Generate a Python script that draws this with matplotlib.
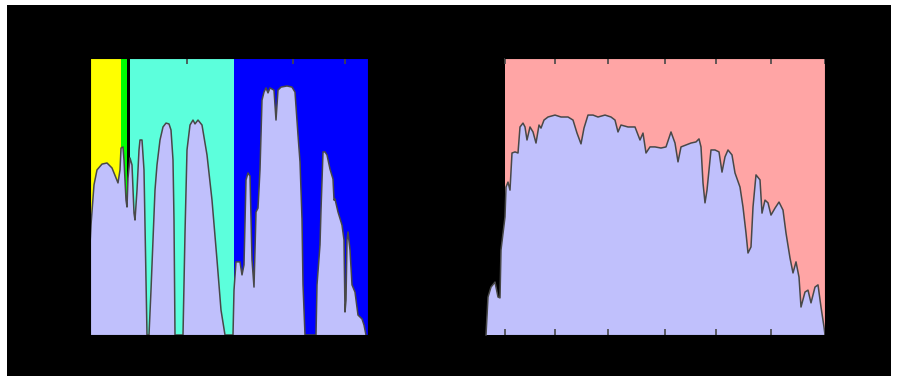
import numpy as np
import matplotlib
matplotlib.use("Agg")
import matplotlib.pyplot as plt
from matplotlib.patches import Rectangle

# left panel: transmission (%) vs position
left_x = [0.0, 0.1, 0.4, 0.7, 1.2, 1.7, 2.2, 2.6, 2.8, 3.0, 3.1, 3.3, 3.4, 3.6, 3.7, 3.8,
          4.0, 4.2, 4.4, 4.5, 4.7, 4.9, 5.0, 5.2, 5.4, 5.6, 5.7,
          5.9, 6.1, 6.3, 6.5, 6.7, 7.0, 7.3, 7.6, 7.9, 8.1, 8.3, 8.4, 8.5,
          9.3, 9.5, 9.7, 10.0, 10.3, 10.5, 10.8, 11.2, 11.7, 12.2, 12.7, 13.1, 13.5,
          14.3, 14.4, 14.6, 15.0, 15.2, 15.4, 15.6, 15.8, 16.0, 16.2, 16.4, 16.5, 16.6, 16.8,
          17.0, 17.2, 17.4, 17.6, 17.8, 18.0, 18.4, 18.6, 18.8, 19.1, 19.7, 20.2, 20.5, 20.8,
          21.0, 21.2, 21.3, 21.5,
          22.6, 22.7, 23.0, 23.1, 23.3, 23.5, 23.7, 24.0, 24.3, 24.4, 24.5, 24.8, 25.2, 25.4,
          25.5, 25.6, 25.7, 25.8, 26.0, 26.2, 26.5, 26.8, 27.2, 27.4, 27.6]
left_y = [32.5, 39.7, 54.2, 59.6, 61.7, 62.1, 60.3, 56.7, 54.9, 59.6, 67.5, 67.9, 63.2, 48.7, 46.2, 56.7,
          63.9, 61.4, 44.0, 41.5, 52.3, 66.8, 70.4, 70.4, 59.6, 19.9, 0.0,
          0.0, 16.2, 34.3, 52.3, 61.4, 70.4, 75.1, 76.5, 76.2, 74.0, 63.2, 41.5, 0.0,
          0.0, 36.8, 66.8, 75.8, 77.6, 76.2, 77.6, 75.8, 65.0, 48.7, 27.1, 9.0, 0.0,
          0.0, 16.2, 26.4, 26.4, 21.7, 25.3, 56.0, 58.5, 57.4, 27.1, 17.3, 30.7, 44.4, 45.8,
          59.6, 84.8, 87.7, 89.2, 87.4, 89.2, 88.4, 77.6, 88.4, 89.5, 89.9, 89.5, 87.7, 72.2,
          62.5, 41.9, 18.1, 0.0,
          0.0, 18.1, 32.5, 45.1, 66.1, 66.1, 65.0, 59.9, 56.3, 48.7, 49.1, 44.4, 39.7, 34.3,
          8.3, 12.6, 34.3, 37.2, 30.7, 18.1, 15.5, 7.2, 5.8, 3.6, 0.0]

# coloured bands behind the left curve (start, end)
band_edges = [(0.0, 3.1), (3.1, 3.7), (4.0, 14.4), (14.4, 27.8)]
band_colors = ["#ffff00", "#00ff00", "#5cffdc", "#0000ff"]
left_ticks = [9.7, 20.3, 25.5]

# right panel
right_x = [-1.9, -1.7, -1.4, -1.0, -0.7, -0.5, -0.4, 0.0, 0.1, 0.3, 0.5, 0.7, 1.0, 1.3, 1.5,
           1.8, 2.0, 2.2, 2.5, 2.8, 3.1, 3.4, 3.6, 3.9, 4.3, 5.0, 5.6, 6.3, 6.8, 7.2, 7.6,
           7.9, 8.3, 8.8, 9.3, 10.0, 10.6, 11.0, 11.3, 11.6, 12.3, 13.0, 13.5, 13.8, 14.1,
           14.5, 15.0, 15.6, 16.1, 16.6, 17.0, 17.3, 17.6, 18.1, 18.6, 19.1, 19.4, 19.6,
           19.8, 20.0, 20.2, 20.6, 21.0, 21.4, 21.7, 22.0, 22.3, 22.7, 23.0, 23.5, 23.8,
           24.1, 24.3, 24.6, 24.8, 25.1, 25.5, 25.7, 26.0, 26.3, 26.6, 27.0, 27.4, 27.8,
           28.1, 28.5, 28.8, 29.1, 29.4, 29.6, 30.0, 30.3, 30.6, 31.0, 31.3, 31.6, 31.9, 32.0]
right_y = [0.0, 13.7, 17.3, 19.1, 13.7, 13.4, 30.7, 42.6, 53.4, 55.2, 52.3, 65.7, 66.1, 65.7, 75.1,
           76.5, 75.1, 70.4, 75.1, 73.3, 69.3, 75.8, 74.7, 77.6, 78.7, 79.4, 78.7, 78.7, 77.6, 72.9, 69.0,
           74.7, 79.4, 79.4, 78.7, 79.4, 78.7, 77.6, 73.3, 75.8, 75.1, 75.1, 70.4, 72.9, 65.7,
           67.9, 67.9, 67.5, 67.9, 73.3, 69.3, 62.5, 67.9, 68.6, 69.3, 69.7, 70.8, 67.9,
           54.9, 47.7, 52.3, 66.8, 66.8, 66.1, 58.8, 64.3, 66.8, 65.0, 58.5, 53.4, 46.2,
           36.8, 29.6, 31.8, 46.2, 57.8, 56.0, 44.0, 48.7, 47.7, 43.3, 45.8, 48.0, 45.1,
           36.8, 27.8, 22.4, 26.4, 20.9, 10.1, 15.5, 16.2, 11.6, 17.3, 18.1, 10.1, 2.9, 0.0]
right_ticks = [0, 5.0, 10.3, 16.0, 21.1, 26.6, 32.0]

lavender = "#c0c0fc"
edge = "#484848"

fig = plt.figure(figsize=(8.98, 3.86), dpi=100, facecolor="white")
# black panel behind everything, thin white margin round it
fig.patches.append(Rectangle((7 / 898, 10 / 386), 884 / 898, 371 / 386,
                             transform=fig.transFigure, facecolor="black",
                             edgecolor="none", zorder=-10))

ax1 = fig.add_axes([90 / 898, 51 / 386, 278 / 898, 277 / 386])
ax1.set_facecolor("black")
for (a, b), c in zip(band_edges, band_colors):
    ax1.axvspan(a, b, color=c, lw=0, zorder=0.5)
ax1.fill_between(left_x, left_y, 0, facecolor=lavender, edgecolor="none", zorder=1)
ax1.plot(left_x, left_y, color=edge, lw=1.1, zorder=1.5)
ax1.set_xlim(0, 27.8)
ax1.set_ylim(0, 100)
ax1.set_xticks(left_ticks)
ax1.set_yticks([])
ax1.tick_params(axis="x", direction="in", top=True, bottom=False,
                labelbottom=False, length=4, width=1.2, color=edge)

ax2 = fig.add_axes([505 / 898, 51 / 386, 320 / 898, 277 / 386])
ax2.set_facecolor("#ffa5a5")
ax2.fill_between(right_x, right_y, 0, facecolor=lavender, edgecolor="none",
                 zorder=1, clip_on=False)
ax2.plot(right_x, right_y, color=edge, lw=1.1, zorder=1.5, clip_on=False)
ax2.set_xlim(0, 32)
ax2.set_ylim(0, 100)
ax2.set_xticks(right_ticks)
ax2.set_yticks([])
ax2.tick_params(axis="x", direction="in", top=True, bottom=True,
                labelbottom=False, length=4, width=1.2, color=edge)

for ax in (ax1, ax2):
    for s in ax.spines.values():
        s.set_color("black")
        s.set_linewidth(0.8)
ax2.spines["left"].set_visible(False)

fig.savefig("out.png", dpi=100, facecolor="white")
